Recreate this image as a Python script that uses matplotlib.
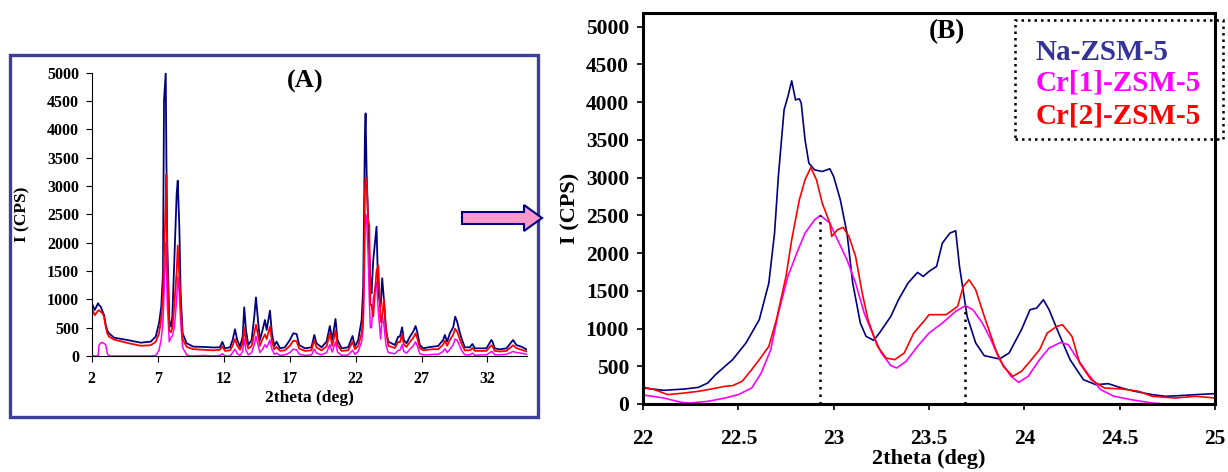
import matplotlib
matplotlib.use("Agg")
import matplotlib.pyplot as plt
from matplotlib.patches import Rectangle, FancyArrow

plt.rcParams['font.family'] = ['Liberation Serif', 'DejaVu Serif']
plt.rcParams['font.weight'] = 'bold'

# ---- panel A: full pattern, 2-35 deg ----
theta_a = [2.00, 2.23, 2.48, 2.55, 2.68, 2.80, 2.93, 3.06, 3.18, 3.31, 3.69, 4.70,
           5.71, 6.47, 6.85, 7.10, 7.27, 7.40, 7.48, 7.61, 7.66, 7.73, 7.88, 8.01,
           8.11, 8.26, 8.44, 8.52, 8.64, 8.74, 8.89, 9.20, 9.45, 9.70, 10.5, 11.2,
           11.72, 11.9, 12.1, 12.48, 12.68, 12.86, 13.03, 13.24, 13.44, 13.56, 13.69,
           13.87, 14.12, 14.32, 14.45, 14.60, 14.75, 14.95, 15.13, 15.26, 15.51, 15.66,
           15.84, 16.01, 16.27, 16.64, 17.02, 17.28, 17.53, 17.73, 18.16, 18.66, 18.87,
           19.04, 19.42, 19.80, 20.05, 20.23, 20.48, 20.63, 20.94, 21.44, 21.77, 21.95,
           22.20, 22.46, 22.58, 22.66, 22.71, 22.76, 22.84, 22.95, 23.04, 23.12, 23.21,
           23.34, 23.49, 23.59, 23.72, 23.90, 24.02, 24.15, 24.30, 24.48, 24.73, 24.98,
           25.23, 25.36, 25.53, 25.66, 25.86, 26.12, 26.37, 26.55, 26.67, 26.87, 27.13,
           27.50, 27.88, 28.26, 28.64, 28.77, 28.94, 29.15, 29.40, 29.55, 29.70, 29.85,
           30.03, 30.28, 30.66, 30.86, 31.04, 31.54, 31.92, 32.30, 32.38, 32.55, 32.93,
           33.44, 33.94, 34.19, 34.57, 34.95]
na_a = [930, 812, 930, 900, 870, 800, 723, 547, 450, 400, 323, 282,
        235, 253, 341, 577, 870, 1459, 4517, 5000, 3459, 1929, 635, 517,
        694, 1694, 2870, 3094, 2282, 1106, 400, 224, 194, 165, 160, 150,
        153, 250, 135, 153, 282, 471, 282, 165, 341, 859, 459,
        194, 282, 694, 1035, 635, 282, 459, 635, 459, 800, 400,
        177, 253, 135, 153, 282, 400, 388, 194, 135, 153, 371,
        224, 153, 253, 529, 282, 653, 282, 135, 153, 353, 165,
        282, 635, 1223, 2988, 3929, 4282, 3223, 2400, 1811, 1300, 1106,
        1694, 2047, 2282, 1106, 870, 1370, 988, 459, 253, 223, 194,
        341, 341, 506, 282, 224, 341, 429, 529, 429, 194, 135,
        153, 165, 177, 282, 371, 253, 400, 506, 694, 606, 459,
        312, 153, 153, 212, 135, 135, 135, 282, 253, 135, 117,
        135, 282, 194, 164, 117]
cr1_a = [0, 0, 0, 190, 230, 240, 220, 200, 40, 0, 0, 0,
         0, 0, 10, 100, 300, 600, 1100, 2000, 1700, 900, 250, 330,
         350, 500, 1000, 1400, 1100, 600, 150, 20, 0, 0, 10, 0,
         10, 40, 0, 0, 60, 120, 40, 10, 80, 300, 100,
         20, 60, 200, 350, 200, 60, 120, 200, 150, 280, 120,
         30, 50, 10, 20, 60, 120, 110, 30, 10, 20, 120,
         50, 20, 60, 200, 70, 250, 70, 10, 20, 100, 30,
         80, 250, 500, 1400, 2300, 2500, 2400, 1800, 1000, 500, 500,
         1000, 1200, 1300, 800, 300, 700, 550, 200, 60, 50, 40,
         100, 100, 200, 80, 50, 120, 180, 250, 180, 40, 20,
         20, 30, 30, 80, 130, 60, 120, 200, 300, 280, 200,
         100, 20, 20, 50, 10, 20, 20, 80, 70, 20, 20,
         30, 80, 60, 50, 30]
cr2_a = [840, 720, 800, 810, 780, 760, 700, 520, 400, 340, 290, 230,
         180, 190, 250, 400, 650, 1100, 1800, 2700, 3200, 1600, 450, 420,
         500, 900, 1500, 1950, 1400, 900, 300, 160, 140, 120, 110, 100,
         110, 170, 90, 100, 180, 300, 180, 110, 220, 500, 280,
         130, 180, 400, 550, 380, 180, 300, 380, 300, 520, 260,
         120, 160, 90, 100, 180, 270, 260, 130, 90, 100, 280,
         150, 100, 170, 400, 180, 450, 190, 90, 100, 250, 120,
         180, 400, 700, 1800, 2900, 3150, 3100, 2400, 2300, 900, 900,
         700, 1200, 1500, 1600, 600, 700, 1000, 500, 180, 160, 140,
         250, 240, 380, 200, 160, 250, 320, 400, 320, 140, 100,
         110, 120, 120, 200, 270, 180, 280, 380, 480, 430, 330,
         220, 100, 100, 140, 90, 90, 90, 190, 170, 90, 80,
         90, 190, 140, 110, 80]
ticks_a = [2, 7, 12, 17, 22, 27, 32]

# ---- panel B: zoom 22-25 deg ----
theta_na = [22.0, 22.11, 22.22, 22.29, 22.34, 22.38, 22.43, 22.47, 22.54, 22.61, 22.66,
            22.69, 22.71, 22.74, 22.76, 22.78, 22.80, 22.82, 22.83, 22.85, 22.87, 22.90,
            22.94, 22.98, 23.0, 23.035, 23.07, 23.10, 23.14, 23.17, 23.21, 23.24, 23.30,
            23.34, 23.39, 23.44, 23.47, 23.50, 23.54, 23.57, 23.61, 23.64, 23.66, 23.70,
            23.745, 23.79, 23.87, 23.92, 23.985, 24.03, 24.065, 24.10, 24.13, 24.18, 24.24,
            24.31, 24.375, 24.44, 24.51, 24.58, 24.67, 24.74, 24.81, 24.90, 25.0]
na_b = [212, 181, 199, 220, 278, 388, 499, 587, 808, 1117, 1602,
        2264, 3014, 3897, 4073, 4281, 4029, 4042, 3985, 3500, 3191, 3102,
        3080, 3116, 3014, 2705, 2264, 1602, 1072, 896, 843, 940, 1161,
        1381, 1602, 1743, 1690, 1756, 1823, 2131, 2264, 2295, 1823, 1161,
        808, 640, 596, 675, 984, 1249, 1271, 1381, 1249, 940, 587,
        322, 256, 269, 212, 168, 124, 102, 110, 124, 137]
theta_cr1 = [22.0, 22.11, 22.20, 22.245, 22.34, 22.43, 22.50, 22.57, 22.62, 22.67, 22.71,
             22.76, 22.81, 22.85, 22.90, 22.93, 22.98, 23.02, 23.07, 23.115, 23.16, 23.21,
             23.25, 23.30, 23.33, 23.38, 23.44, 23.50, 23.57, 23.64, 23.69, 23.73, 23.78,
             23.825, 23.87, 23.93, 23.97, 24.02, 24.08, 24.13, 24.19, 24.23, 24.27, 24.33,
             24.40, 24.47, 24.56, 24.67, 24.74, 25.0]
cr1_b = [119, 79, 22, 13, 35, 79, 124, 212, 410, 719, 1205,
         1690, 2021, 2264, 2440, 2498, 2396, 2176, 1911, 1602, 1205, 896,
         675, 508, 477, 565, 763, 940, 1072, 1227, 1302, 1249, 1072,
         852, 587, 366, 287, 366, 587, 741, 816, 786, 631, 410,
         190, 102, 57, 13, 0, 0]
theta_cr2 = [22.0, 22.06, 22.13, 22.22, 22.29, 22.36, 22.43, 22.47, 22.52, 22.57, 22.61,
             22.66, 22.70, 22.75, 22.78, 22.82, 22.85, 22.88, 22.91, 22.94, 22.98, 22.99,
             23.02, 23.05, 23.08, 23.115, 23.15, 23.18, 23.23, 23.275, 23.32, 23.37, 23.42,
             23.48, 23.50, 23.54, 23.59, 23.65, 23.68, 23.71, 23.745, 23.79, 23.85, 23.89,
             23.94, 23.985, 24.03, 24.08, 24.12, 24.17, 24.20, 24.25, 24.29, 24.35, 24.42,
             24.51, 24.60, 24.67, 24.79, 24.90, 25.0]
cr2_b = [225, 190, 124, 146, 168, 199, 234, 243, 300, 455, 587,
         763, 1117, 1690, 2176, 2705, 2970, 3133, 2970, 2661, 2396, 2220,
         2308, 2339, 2220, 1955, 1469, 1117, 763, 609, 587, 675, 940,
         1117, 1183, 1183, 1183, 1293, 1558, 1646, 1514, 1161, 719, 499,
         366, 432, 565, 719, 940, 1028, 1050, 896, 543, 322, 212,
         199, 168, 102, 79, 102, 79]
peak_x = [22.93, 23.69]
peak_y = [2500, 1300]
ticks_b = [22, 22.5, 23, 23.5, 24, 24.5, 25]
names = ['Na-ZSM-5', 'Cr[1]-ZSM-5', 'Cr[2]-ZSM-5']

navy = '#000080'
magenta = '#ff00ff'
red = '#ff0000'

fig = plt.figure(figsize=(12.28, 4.72), dpi=100)

# panel A
axa = fig.add_axes([0.0747, 0.2458, 0.3545, 0.6002])
axa.plot(theta_a, na_a, color=navy, lw=1.3)
axa.plot(theta_a, cr1_a, color=magenta, lw=1.1)
axa.plot(theta_a, cr2_a, color=red, lw=1.3)
axa.set_xlim(2, 35)
axa.set_ylim(0, 5000)
axa.set_xticks(ticks_a)
axa.set_yticks(range(0, 5001, 500))
axa.spines['top'].set_visible(False)
axa.spines['right'].set_visible(False)
axa.tick_params(direction='out', length=4, labelsize=11.5)
axa.tick_params(axis='x', pad=7)
axa.tick_params(axis='y', pad=5)
axa.set_xlabel('2theta (deg)', fontsize=12.5, fontweight='bold', labelpad=2)
axa.set_ylabel('I (CPS)', fontsize=12.5, fontweight='bold', labelpad=12)
axa.text(0.49, 0.97, '(A)', transform=axa.transAxes, ha='center', va='center',
         fontsize=19, fontweight='bold')

# panel B
axb = fig.add_axes([0.5236, 0.1441, 0.4658, 0.8284])
axb.plot(theta_na, na_b, color=navy, lw=1.2)
axb.plot(theta_cr1, cr1_b, color=magenta, lw=1.2)
axb.plot(theta_cr2, cr2_b, color=red, lw=1.2)
axb.vlines(peak_x, 0, peak_y, colors='black', linestyles=(0, (1, 2)), lw=1.8)
axb.set_xlim(22, 25)
axb.set_ylim(0, 5180)
axb.set_xticks(ticks_b)
axb.set_xticklabels([f'{t:g}' for t in ticks_b])
axb.set_yticks(range(0, 5001, 500))
for s in axb.spines.values():
    s.set_linewidth(2.2)
axb.tick_params(direction='out', length=4, width=1.2, labelsize=15.5)
axb.tick_params(axis='x', pad=14)
axb.tick_params(axis='y', pad=6)
axb.set_xlabel('2theta (deg)', fontsize=16, fontweight='bold', labelpad=0)
axb.set_ylabel('I (CPS)', fontsize=16, fontweight='bold', labelpad=4)
axb.text(0.532, 0.953, '(B)', transform=axb.transAxes, ha='center', va='center',
         fontsize=19.5, fontweight='bold')

# legend box with dotted frame
leg_colors = ['#333399', magenta, red]
leg_y = [52, 83, 116]
for name, c, y in zip(names, leg_colors, leg_y):
    fig.text(1036 / 1228, 1 - y / 472, name, color=c, fontsize=21,
             fontweight='bold', ha='left', va='center')
fig.add_artist(Rectangle((10.15, 3.33), 2.08, 1.19, transform=fig.dpi_scale_trans,
                         fill=False, ec='black', lw=1.8, ls=(0, (1, 1.6))))

# frame around panel A and the arrow between panels
fig.add_artist(Rectangle((0.10, 0.55), 5.28, 3.62, transform=fig.dpi_scale_trans,
                         fill=False, ec='#3d3d9e', lw=2.4))
fig.add_artist(FancyArrow(4.62, 2.54, 0.80, 0, width=0.12, head_width=0.26,
                          head_length=0.18, length_includes_head=True,
                          transform=fig.dpi_scale_trans, fc='#ff99cc', ec=navy, lw=1.5))

fig.savefig('out.png', dpi=100)
